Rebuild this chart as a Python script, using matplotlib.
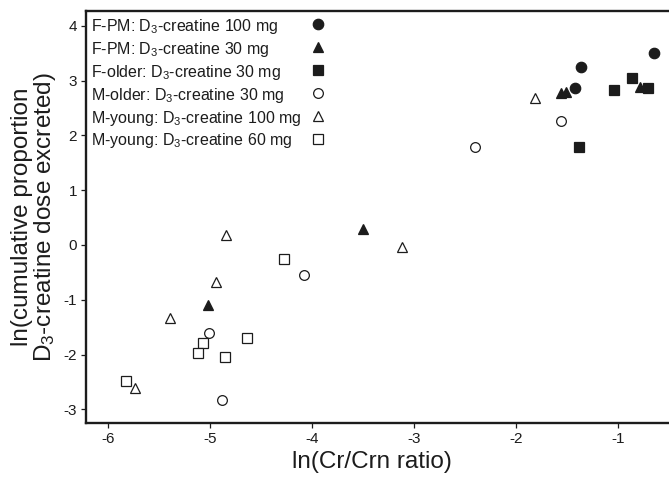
import matplotlib
matplotlib.use("Agg")
import matplotlib.pyplot as plt

plt.rcParams['font.family'] = ['Liberation Sans', 'DejaVu Sans']
plt.rcParams['mathtext.fontset'] = 'custom'
plt.rcParams['mathtext.rm'] = 'Liberation Sans'
plt.rcParams['mathtext.it'] = 'Liberation Sans:italic'
plt.rcParams['mathtext.bf'] = 'Liberation Sans:bold'

# ---- data ----
fpm100_x = [-0.65, -1.36, -1.42]
fpm100_y = [3.50, 3.24, 2.86]

fpm30_x = [-1.56, -1.51, -0.78, -5.02, -3.50]
fpm30_y = [2.77, 2.80, 2.89, -1.09, 0.29]

fold30_x = [-1.04, -0.86, -0.70, -1.38]
fold30_y = [2.83, 3.04, 2.86, 1.79]

mold30_x = [-1.56, -2.40, -4.08, -5.01, -4.88]
mold30_y = [2.26, 1.79, -0.55, -1.61, -2.83]

myoung100_x = [-1.81, -3.12, -4.84, -4.94, -5.39, -5.73]
myoung100_y = [2.68, -0.03, 0.18, -0.67, -1.34, -2.61]

myoung60_x = [-4.27, -4.63, -5.07, -5.11, -4.85, -5.82]
myoung60_y = [-0.26, -1.70, -1.79, -1.97, -2.04, -2.49]

labels = [
    r"F-PM: D$_\mathregular{3}$-creatine 100 mg",
    r"F-PM: D$_\mathregular{3}$-creatine 30 mg",
    r"F-older: D$_\mathregular{3}$-creatine 30 mg",
    r"M-older: D$_\mathregular{3}$-creatine 30 mg",
    r"M-young: D$_\mathregular{3}$-creatine 100 mg",
    r"M-young: D$_\mathregular{3}$-creatine 60 mg",
]
xticks = [-6, -5, -4, -3, -2, -1]
yticks = [-3, -2, -1, 0, 1, 2, 3, 4]

INK = '#1c1c1c'
W, H = 669, 478
fig = plt.figure(figsize=(W / 100, H / 100), dpi=100)
ax_l, ax_r, ax_t, ax_b = 86, 669, 11, 422.7
ax = fig.add_axes([ax_l / W, 1 - ax_b / H, (ax_r - ax_l) / W, (ax_b - ax_t) / H])

series = [
    (fpm100_x, fpm100_y, 'o', True, 7.5),
    (fpm30_x, fpm30_y, '^', True, 7.5),
    (fold30_x, fold30_y, 's', True, 7.0),
    (mold30_x, mold30_y, 'o', False, 7.0),
    (myoung100_x, myoung100_y, '^', False, 7.0),
    (myoung60_x, myoung60_y, 's', False, 6.5),
]

for (xs, ys, m, filled, ms) in series:
    ax.plot(xs, ys, linestyle='none', marker=m, markersize=ms,
            markerfacecolor=INK if filled else 'white',
            markeredgecolor=INK, markeredgewidth=0.9, clip_on=False)

# legend: text column on the left, marker column on the right
row0 = 31.0
dy = 22.9
for i, ((xs, ys, m, filled, ms), lab) in enumerate(zip(series, labels)):
    base_px = row0 + i * dy
    yfrac = 1 - (base_px - ax_t) / (ax_b - ax_t)
    ax.text((91 - ax_l) / (ax_r - ax_l), yfrac, lab, transform=ax.transAxes,
            ha='left', va='baseline', fontsize=11.5, color=INK)
    myfrac = 1 - (base_px - 7 - ax_t) / (ax_b - ax_t)
    ax.plot([(318 - ax_l) / (ax_r - ax_l)], [myfrac], transform=ax.transAxes,
            linestyle='none', marker=m, markersize=ms,
            markerfacecolor=INK if filled else 'white',
            markeredgecolor=INK, markeredgewidth=0.9, clip_on=False)

ax.set_xlim(-6.212, -0.499)
ax.set_ylim(-3.243, 4.27)
ax.set_xticks(xticks)
ax.set_yticks(yticks)
ax.set_xticklabels([str(v) for v in xticks])
ax.set_yticklabels([str(v) for v in yticks])

for s in ['left', 'bottom', 'top']:
    ax.spines[s].set_linewidth(1.7)
    ax.spines[s].set_color(INK)
ax.spines['right'].set_visible(False)

ax.tick_params(direction='out', length=3.5, width=0.9, colors=INK,
               labelsize=11, pad=3)

ax.set_xlabel("ln(Cr/Crn ratio)", fontsize=17.5, color=INK, labelpad=4)
ax.xaxis.label.set_x((371.7 - ax_l) / (ax_r - ax_l))
ax.set_ylabel("ln(cumulative proportion\nD$_\\mathregular{3}$-creatine dose excreted)",
              fontsize=17.5, color=INK, labelpad=4, linespacing=0.95)

fig.savefig("out.png", dpi=100)
